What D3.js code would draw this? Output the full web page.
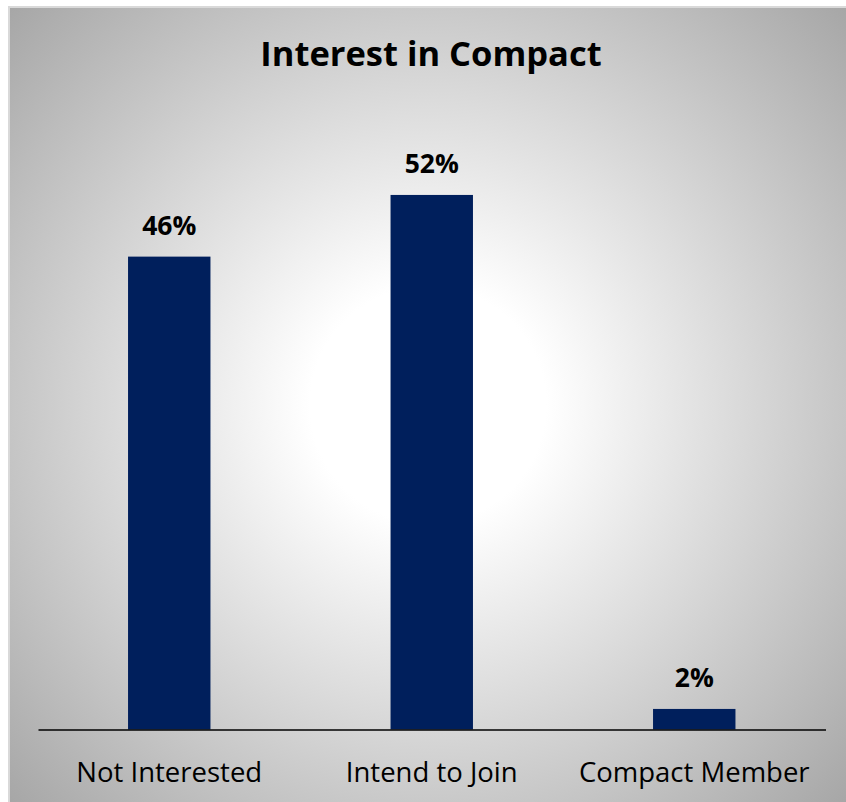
<!DOCTYPE html>
<html>
<head>
<meta charset="utf-8">
<script src="https://cdn.jsdelivr.net/npm/d3@7"></script>
<style>
  html, body { margin: 0; padding: 0; background: #ffffff; }
  svg { display: block; }
</style>
</head>
<body>
<script>
// Chart data
const categories = ["Not Interested", "Intend to Join", "Compact Member"];
const shares = [0.46, 0.52, 0.02];
const valueLabels = ["46%", "52%", "2%"];
const chartTitle = "Interest in Compact";

const W = 846, H = 802;
const svg = d3.select("body").append("svg").attr("width", W).attr("height", H);

// Radial background shading
const defs = svg.append("defs");
const grad = defs.append("radialGradient")
  .attr("id", "bg")
  .attr("gradientUnits", "userSpaceOnUse")
  .attr("cx", 428).attr("cy", 405).attr("r", 590);
grad.append("stop").attr("offset", 0).attr("stop-color", "#ffffff");
grad.append("stop").attr("offset", 0.2).attr("stop-color", "#ffffff");
grad.append("stop").attr("offset", 1).attr("stop-color", "#a4a4a4");

// Chart frame
svg.append("rect")
  .attr("x", 9).attr("y", 7).attr("width", W).attr("height", H)
  .attr("fill", "url(#bg)")
  .attr("stroke", "#d9d9d9").attr("stroke-width", 2);

const font = "'Open Sans', Lato, sans-serif";

// Scales
const x = d3.scaleBand()
  .domain(categories)
  .range([38, 825.5])
  .paddingInner(0.686)
  .paddingOuter(0.343);

const y = d3.scaleLinear()
  .domain([0, 0.6])
  .range([729.5, 112.7]);

// Title
svg.append("text")
  .attr("x", 431).attr("y", 66)
  .attr("text-anchor", "middle")
  .attr("font-family", font)
  .attr("font-weight", "bold")
  .attr("font-size", 34.5)
  .attr("fill", "#000")
  .text(chartTitle);

// Bars
svg.append("g").selectAll("rect")
  .data(shares)
  .join("rect")
  .attr("x", (d, i) => x(categories[i]))
  .attr("y", d => y(d))
  .attr("width", x.bandwidth())
  .attr("height", d => y(0) - y(d))
  .attr("fill", "#001f5c");

// Value labels
svg.append("g").selectAll("text")
  .data(shares)
  .join("text")
  .attr("x", (d, i) => x(categories[i]) + x.bandwidth() / 2)
  .attr("y", d => y(d) - 21.5)
  .attr("text-anchor", "middle")
  .attr("font-family", font)
  .attr("font-weight", "bold")
  .attr("font-size", 26.5)
  .attr("fill", "#000")
  .text((d, i) => valueLabels[i]);

// Category axis
const axis = d3.axisBottom(x).tickSize(0).tickPadding(0);
const gAxis = svg.append("g")
  .attr("transform", `translate(0,${y(0)})`)
  .call(axis);
gAxis.select(".domain")
  .attr("stroke", "#000")
  .attr("stroke-width", 1.5);
gAxis.selectAll(".tick text")
  .attr("dy", 0)
  .attr("y", 52)
  .attr("font-family", font)
  .attr("font-size", 27.5)
  .attr("fill", "#000");
</script>
</body>
</html>
